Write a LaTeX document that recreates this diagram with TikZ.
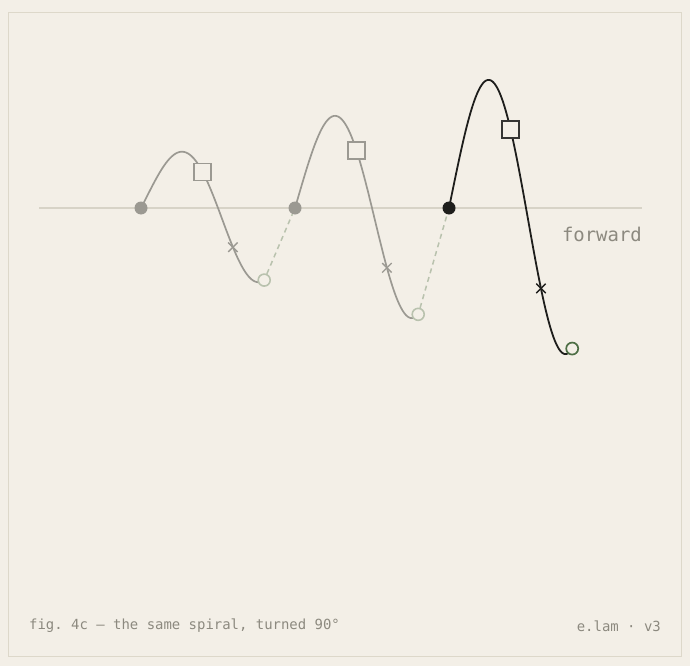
\documentclass[tikz,border=0pt]{standalone}
\usepackage{fontspec}
\setmonofont{DejaVu Sans Mono}
\definecolor{bg}{HTML}{F3EFE7}
\definecolor{frame}{HTML}{DDD8CA}
\definecolor{axisc}{HTML}{D7D3C7}
\definecolor{faded}{HTML}{9B9992}
\definecolor{fadedg}{HTML}{B9C2AE}
\definecolor{ink}{HTML}{1E1E1C}
\definecolor{endg}{HTML}{4D6E45}
\definecolor{txt}{HTML}{8C897F}
\tikzset{
  dotf/.style={circle,fill=faded,inner sep=0pt,minimum size=13bp},
  dota/.style={circle,fill=ink,inner sep=0pt,minimum size=13bp},
  ringf/.style={circle,draw=fadedg,line width=1.6bp,fill=bg,inner sep=0pt,minimum size=12bp},
  ringa/.style={circle,draw=endg,line width=1.7bp,fill=bg,inner sep=0pt,minimum size=12bp},
  sqf/.style={rectangle,draw=faded,line width=1.6bp,fill=bg,inner sep=0pt,minimum size=17bp},
  sqa/.style={rectangle,draw=ink!90,line width=1.7bp,fill=bg,inner sep=0pt,minimum size=17bp},
  xf/.style={cross out,draw=faded,line width=1.4bp,inner sep=0pt,minimum size=8bp},
  xa/.style={cross out,draw=ink,line width=1.4bp,inner sep=0pt,minimum size=8bp},
  curvef/.style={draw=faded,line width=1.7bp},
  curvea/.style={draw=ink,line width=1.8bp},
  jump/.style={draw=fadedg,line width=1.5bp,dash pattern=on 5bp off 4bp},
  lbl/.style={font=\ttfamily,text=txt,inner sep=0pt}
}
\usetikzlibrary{shapes.misc}
\begin{document}
\begin{tikzpicture}[x=1bp,y=-1bp]
\fill[bg] (0,0) rectangle (690,666);
\useasboundingbox (0,0) rectangle (690,666);
\draw[frame,line width=1.3bp] (8.5,12.5) rectangle (681.5,656.5);
\coordinate (axL) at (39,208);
\coordinate (axR) at (642,208);
\draw[axisc,line width=1.6bp] (axL) -- (axR);
% spiral segments
\foreach \n/\st in {0/curvef,1/curvef,2/curvea}{
  \draw[\st,line cap=round] plot[domain=0:0.8,samples=80,smooth]
    ({141+154*\n+154*\x},{208-(47+36*\n+36*\x)*sin(360*\x)});
}
% markers
\foreach \n/\d/\r/\s/\xm in {0/dotf/ringf/sqf/xf,1/dotf/ringf/sqf/xf,2/dota/ringa/sqa/xa}{
  \node[\d] (d\n) at ({141+154*\n},208) {};
  \node[\r] (c\n) at ({141+154*\n+154*0.8},{208-(47+36*\n+36*0.8)*sin(288)}) {};
  \node[\s] (s\n) at ({141+154*\n+154*0.4},{208-(47+36*\n+36*0.4)*sin(144)}) {};
  \node[\xm] (x\n) at ({141+154*\n+154*0.597},{208-(47+36*\n+36*0.597)*sin(360*0.597)}) {};
}
\draw[jump] (c0) -- (d1);
\draw[jump] (c1) -- (d2);
\node[lbl,font=\ttfamily\fontsize{19}{22}\selectfont,anchor=east] (fw) at (642,234) {forward};
\node[lbl,font=\ttfamily\fontsize{14}{16}\selectfont,anchor=west] (cap) at (29,626) {fig. 4c — the same spiral, turned 90°};
\node[lbl,font=\ttfamily\fontsize{14}{16}\selectfont,anchor=east] (sig) at (661,626) {e.lam · v3};
\end{tikzpicture}
\end{document}
